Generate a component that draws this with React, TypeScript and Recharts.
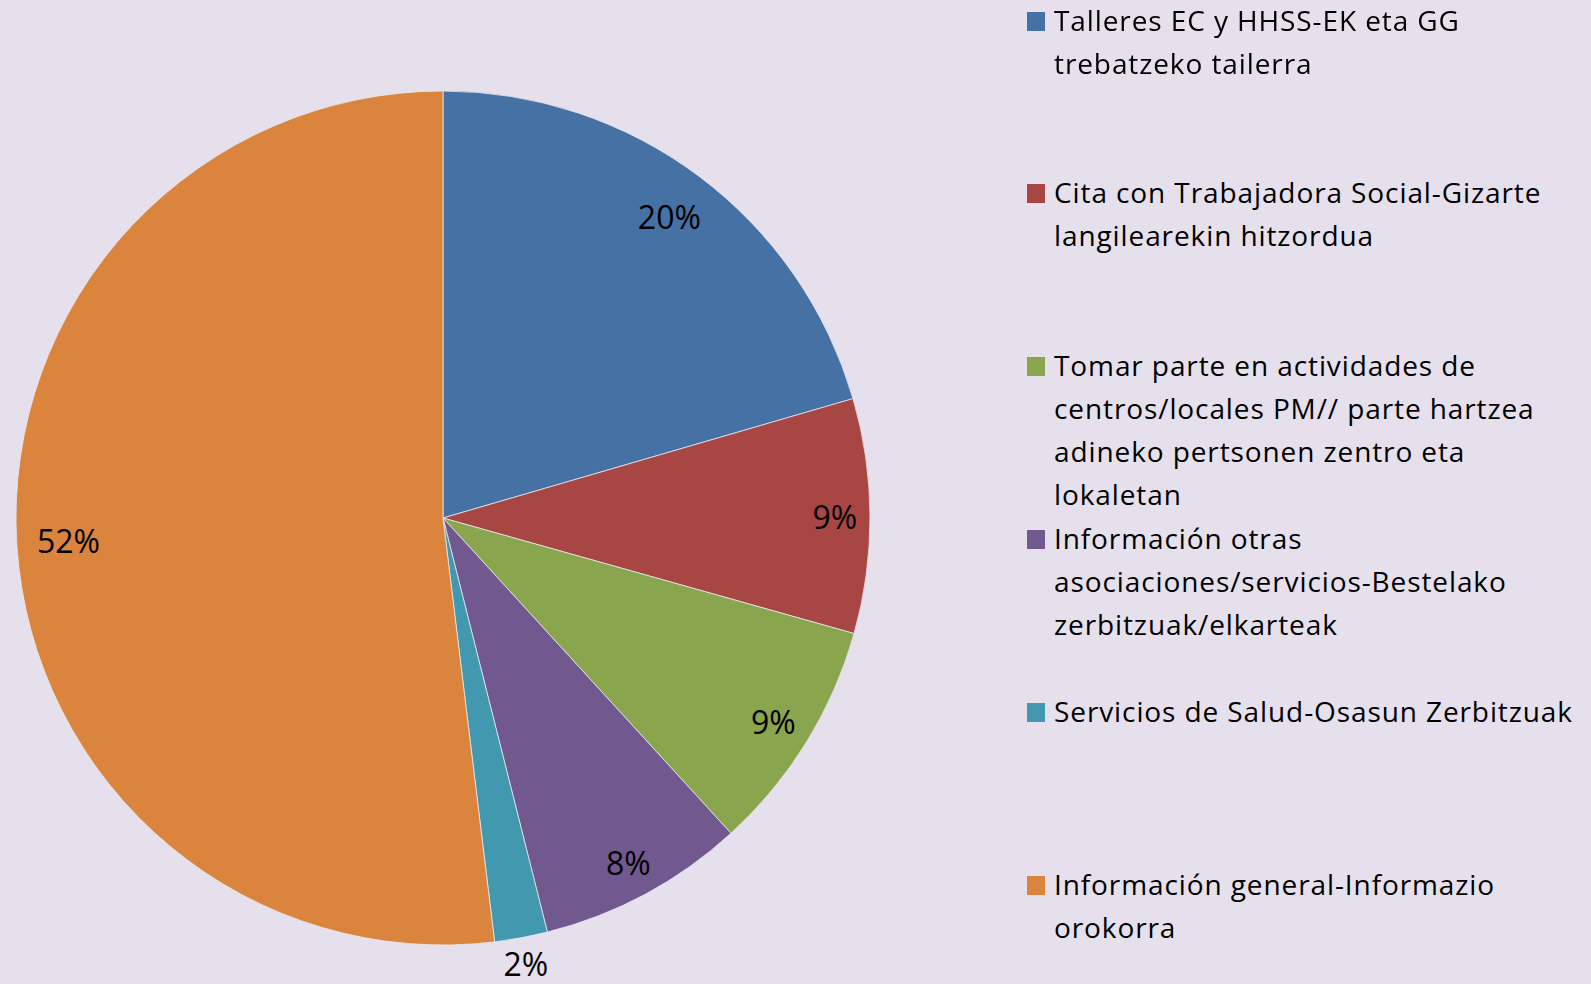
import { PieChart, Pie, Cell } from "recharts";

const categories = [
  "Talleres EC y HHSS-EK eta GG\ntrebatzeko tailerra",
  "Cita con Trabajadora Social-Gizarte\nlangilearekin hitzordua",
  "Tomar parte en actividades de\ncentros/locales PM// parte hartzea\nadineko pertsonen zentro eta\nlokaletan",
  "Información otras\nasociaciones/servicios-Bestelako\nzerbitzuak/elkarteak",
  "Servicios de Salud-Osasun Zerbitzuak",
  "Información general-Informazio\norokorra",
];
const shares = [20.49, 8.87, 8.86, 7.85, 2.0, 51.93];
const colors = ["#4571A5", "#A84644", "#89A54E", "#71588F", "#4198AF", "#DB843D"];

const data = categories.map((c, i) => ({
  name: c.replace(/\n/g, " "),
  label: c,
  value: shares[i],
  color: colors[i],
}));

const BG = "#E6E0EC";
const FONT = "'Open Sans', Lato, sans-serif";
const RAD = Math.PI / 180;

const renderLabel = (props: any) => {
  const { cx, cy, midAngle, outerRadius, percent } = props;
  const text = `${Math.round(percent * 100)}%`;
  const dx = Math.cos(-midAngle * RAD);
  const dy = Math.sin(-midAngle * RAD);
  const hw = text.length > 2 ? 31 : 22;
  const hh = 14;
  const extent = hw * Math.abs(dx) + hh * Math.abs(dy);
  const outside = percent < 0.04;
  const pad = text.length > 2 ? 20 : 13;
  const r = outside ? outerRadius + 8 + extent : outerRadius - pad - extent;
  return (
    <text
      x={cx + r * dx}
      y={cy + r * dy}
      textAnchor="middle"
      dominantBaseline="central"
      fill="#000"
      style={{ fontFamily: FONT, fontSize: 32 }}
    >
      {text}
    </text>
  );
};

export default function App() {
  return (
    <div
      style={{
        position: "fixed",
        left: 0,
        top: 0,
        width: 1591,
        height: 984,
        background: BG,
        fontFamily: FONT,
      }}
    >
      <PieChart width={1591} height={984} margin={{ top: 0, right: 0, bottom: 0, left: 0 }}>
        <Pie
          data={data}
          dataKey="value"
          nameKey="name"
          cx={443}
          cy={518}
          outerRadius={427}
          startAngle={90}
          endAngle={-270}
          stroke="#e8e8ee"
          strokeWidth={0.8}
          label={renderLabel}
          labelLine={false}
          isAnimationActive={false}
        >
          {data.map((d, i) => (
            <Cell key={`cell-${i}`} fill={d.color} />
          ))}
        </Pie>
      </PieChart>

      {/* legend */}
      {data.map((d, i) => (
        <div key={i} style={{ position: "absolute", left: 1027, top: -1 + i * 172.8 }}>
          <div
            style={{
              position: "absolute",
              left: 0,
              top: 12.5,
              width: 18,
              height: 19,
              background: d.color,
            }}
          />
          <div
            style={{
              position: "absolute",
              left: 27,
              top: -0.5,
              whiteSpace: "pre",
              fontSize: 28,
              letterSpacing: 0.9,
              lineHeight: "43px",
              color: "#000",
            }}
          >
            {d.label}
          </div>
        </div>
      ))}
    </div>
  );
}
